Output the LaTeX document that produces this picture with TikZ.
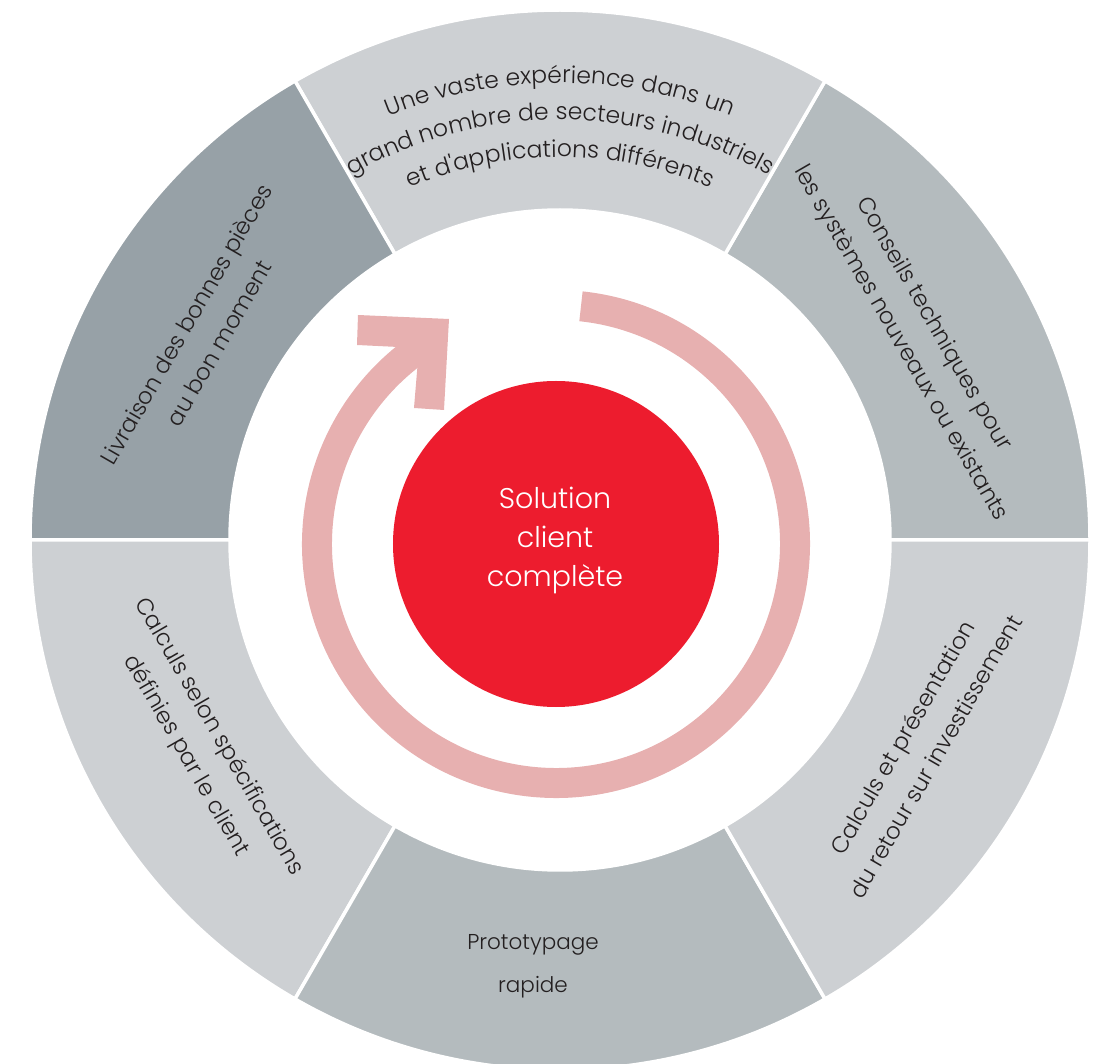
\documentclass[tikz,border=0pt]{standalone}
\usepackage{fontspec}
\setmainfont{Poppins}[UprightFont={* Light}, Ligatures=TeXOff]
\usetikzlibrary{decorations.text}
\definecolor{seglight}{HTML}{CDD0D3}
\definecolor{segmid}{HTML}{B4BBBE}
\definecolor{segdark}{HTML}{97A1A7}
\definecolor{arcpink}{HTML}{E7B0B0}
\definecolor{corered}{HTML}{ED1C2E}
\definecolor{txt}{HTML}{231F20}
\begin{document}
\begin{tikzpicture}[x=1pt,y=1pt,
  seg/.style={fill=#1, draw=white, line width=3.5pt},
  lbl/.style={text=txt, align=center, font=\fontsize{23}{38}\selectfont, inner sep=0pt},
  arclbl/.style={decorate, decoration={text along path, text align=center, text color=txt,
     text={|\fontsize{23.5}{26}\selectfont|#1}}}
]
\useasboundingbox (-560,-524) rectangle (547,540);
\def\ri{330}\def\ro{530}
\foreach \a/\c in {0/segmid,60/seglight,120/segdark,180/seglight,240/segmid,300/seglight}{
  \filldraw[seg=\c] (\a:\ri) arc[start angle=\a, end angle=\a+60, radius=\ri]
     -- (\a+60:\ro) arc[start angle=\a+60, end angle=\a, radius=\ro] -- cycle;
}
% pink circular arrow
\coordinate (c0) at (-4,-4);
\draw[arcpink, line width=30pt] ([shift={(84:239)}]c0) arc[start angle=84, end angle=-235, radius=239];
\fill[arcpink] (-111,221) -- (-202,225) -- (-203,195) -- (-141,192) -- (-146,132) -- (-116,130) -- cycle;
% core
\node[circle, fill=corered, minimum size=326pt, inner sep=0pt] (core) at (c0) {};
\node[text=white, align=center, font=\fontsize{28.5}{39}\selectfont, inner sep=0pt] (coretext) at (-5,0) {Solution\\client\\complète};
% top curved text
\path[arclbl={Une vaste expérience dans un}] (130:457) arc[start angle=130, end angle=50, radius=457];
\path[arclbl={grand nombre de secteurs industriels}] (135:420) arc[start angle=135, end angle=45, radius=420];
\path[arclbl={et d'applications différents}] (135:383) arc[start angle=135, end angle=45, radius=383];
% other labels
\node[lbl, rotate=-60] (conseils) at (30:412) {Conseils techniques pour\\les systèmes nouveaux ou existants};
\node[lbl, rotate=60] (livraison) at (150:413) {Livraison des bonnes pièces\\au bon moment};
\node[lbl, rotate=-60] (specs) at (210:413) {Calculs selon spécifications\\définies par le client};
\node[lbl, rotate=60] (roi) at (-30:414) {Calculs et présentation\\du retour sur investissement};
\node[lbl, font=\fontsize{21.5}{43}\selectfont] (proto) at (-27,-426) {Prototypage\\rapide};
\end{tikzpicture}
\end{document}
